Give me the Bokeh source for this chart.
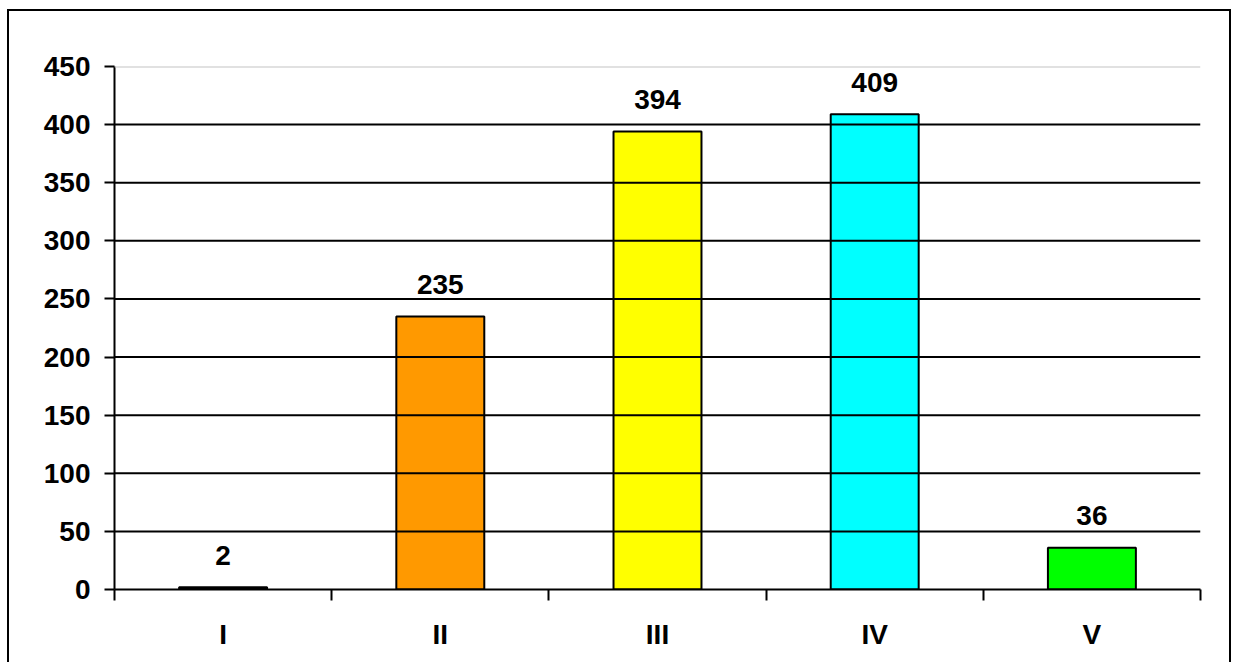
from bokeh.plotting import figure
from bokeh.models import (ColumnDataSource, FixedTicker, LinearAxis, Range1d, Span)
from bokeh.core.properties import value
from bokeh.embed import file_html
from bokeh.resources import INLINE

categories = ["I", "II", "III", "IV", "V"]
counts = [2, 235, 394, 409, 36]
bar_colors = ["#000000", "#FF9900", "#FFFF00", "#00FFFF", "#00FF00"]
y_ticks = [0, 50, 100, 150, 200, 250, 300, 350, 400, 450]

FONT = "Liberation Sans"
FS = "28px"

xs = list(range(1, len(categories) + 1))
src = ColumnDataSource(dict(x=xs, top=counts, color=bar_colors,
                            label=[str(c) for c in counts]))

p = figure(width=1224, height=653, output_backend="svg", toolbar_location=None,
           x_range=Range1d(0.5, 5.5), y_range=Range1d(0, 450),
           min_border_left=105, min_border_right=33, min_border_top=55,
           min_border_bottom=75, x_axis_type=None, y_axis_type=None,
           margin=(9, 0, 0, 7))
p.styles = {"border-top": "2px solid black", "border-left": "2px solid black",
            "border-right": "2px solid black"}
p.outline_line_color = None
p.background_fill_color = "white"
p.border_fill_color = "white"

# grid
p.xgrid.visible = False
p.ygrid.visible = False
for t in y_ticks[1:-1]:
    p.add_layout(Span(location=t, dimension="width", line_color="black", line_width=2))
p.add_layout(Span(location=450, dimension="width", line_color="#c4c4c4", line_width=2))

p.vbar(x="x", top="top", width=0.405, bottom=0, source=src,
       fill_color="color", line_color="black", line_width=2)

p.text(x="x", y="top", text="label", source=src, text_align="center",
       text_baseline="alphabetic", y_offset=-32,
       text_font=value(FONT), text_font_style="bold", text_font_size=FS,
       text_color="black")

# y axis
yax = LinearAxis(ticker=FixedTicker(ticks=y_ticks, minor_ticks=[]))
yax.axis_line_color = "black"
yax.axis_line_width = 2
yax.major_tick_line_color = "black"
yax.major_tick_line_width = 2
yax.major_tick_out = 10
yax.major_tick_in = 0
yax.minor_tick_line_color = None
yax.major_label_standoff = 14
yax.major_label_text_font = FONT
yax.major_label_text_font_style = "bold"
yax.major_label_text_font_size = FS
yax.major_label_text_color = "black"
p.add_layout(yax, "left")

# x axis
xax = LinearAxis(ticker=FixedTicker(ticks=xs,
                                    minor_ticks=[0.5, 1.5, 2.5, 3.5, 4.5, 5.5]))
xax.major_label_overrides = {i: c for i, c in zip(xs, categories)}
xax.axis_line_color = "black"
xax.axis_line_width = 2
xax.major_tick_line_color = None
xax.major_tick_out = 0
xax.major_tick_in = 0
xax.minor_tick_line_color = "black"
xax.minor_tick_line_width = 2
xax.minor_tick_out = 11
xax.minor_tick_in = 0
xax.major_label_standoff = 18
xax.major_label_text_font = FONT
xax.major_label_text_font_style = "bold"
xax.major_label_text_font_size = FS
xax.major_label_text_color = "black"
p.add_layout(xax, "below")

open("out.html", "w").write(file_html(p, INLINE))
